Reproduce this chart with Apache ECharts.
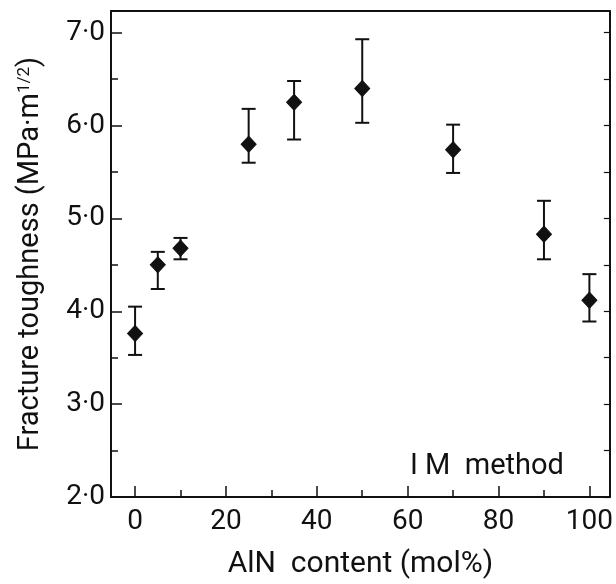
<!DOCTYPE html>
<html>
<head>
<meta charset="utf-8">
<script src="https://cdn.jsdelivr.net/npm/echarts@6/dist/echarts.min.js"></script>
<style>
html,body{margin:0;padding:0;background:#fff;}
#chart{width:616px;height:584px;}
</style>
</head>
<body>
<div id="chart"></div>
<script>
// AlN content (mol%)
var alnContent = [0, 5, 10, 25, 35, 50, 70, 90, 100];
// Fracture toughness mean (MPa·m^1/2)
var toughness = [3.76, 4.50, 4.68, 5.80, 6.25, 6.40, 5.74, 4.83, 4.12];
var errUpper  = [4.05, 4.64, 4.79, 6.18, 6.48, 6.93, 6.01, 5.19, 4.40];
var errLower  = [3.53, 4.24, 4.56, 5.60, 5.85, 6.03, 5.49, 4.56, 3.89];

var xMajorTicks = [0, 20, 40, 60, 80, 100];
var xMinorTicks = [10, 30, 50, 70, 90];
var yMajorTicks = [2, 3, 4, 5, 6, 7];
var yMinorTicks = [2.5, 3.5, 4.5, 5.5, 6.5];
var yRightTicks = [2, 2.5, 3, 3.5, 4, 4.5, 5, 5.5, 6, 6.5, 7];

var FONT = 'Roboto';
var INK = '#111111';
var X_MIN = -5.3, X_MAX = 104.5, Y_MIN = 2.0, Y_MAX = 7.234;

var chart = echarts.init(document.getElementById('chart'), null, {renderer: 'canvas'});

function baseX(extra) {
  return Object.assign({
    type: 'value', min: X_MIN, max: X_MAX, splitLine: {show: false}
  }, extra);
}
function baseY(extra) {
  return Object.assign({
    type: 'value', min: Y_MIN, max: Y_MAX, splitLine: {show: false}
  }, extra);
}

var option = {
  animation: false,
  backgroundColor: '#fff',
  grid: {left: 111, right: 2, top: 11, bottom: 81, containLabel: false},
  xAxis: [
    baseX({
      position: 'bottom',
      name: 'AlN  content (mol%)',
      nameLocation: 'middle',
      nameGap: 52,
      nameTextStyle: {fontFamily: FONT, fontSize: 30, color: INK},
      axisLine: {show: true, onZero: false, lineStyle: {color: INK, width: 2}},
      axisTick: {show: true, inside: true, length: 11, customValues: xMajorTicks, lineStyle: {color: INK, width: 1.5}},
      axisLabel: {show: true, customValues: xMajorTicks, margin: 11, fontFamily: FONT, fontSize: 28, color: INK}
    }),
    baseX({
      position: 'bottom',
      axisLine: {show: false, onZero: false},
      axisTick: {show: true, inside: true, length: 7, customValues: xMinorTicks, lineStyle: {color: INK, width: 1.5}},
      axisLabel: {show: false}
    }),
    baseX({
      position: 'top',
      axisLine: {show: true, onZero: false, lineStyle: {color: INK, width: 2}},
      axisTick: {show: false},
      axisLabel: {show: false}
    })
  ],
  yAxis: [
    baseY({
      position: 'left',
      name: 'Fracture toughness (MPa·m{sup|1/2})',
      nameLocation: 'middle',
      nameGap: 66,
      nameRotate: 90,
      nameTextStyle: {
        fontFamily: FONT, fontSize: 29, color: INK,
        rich: {sup: {fontFamily: FONT, fontSize: 17, color: INK, verticalAlign: 'top', padding: [0, 0, 10, 0]}}
      },
      axisLine: {show: true, onZero: false, lineStyle: {color: INK, width: 2}},
      axisTick: {show: true, inside: true, length: 11, customValues: yMajorTicks, lineStyle: {color: INK, width: 1.5}},
      axisLabel: {
        show: true, customValues: yMajorTicks, margin: 6,
        fontFamily: FONT, fontSize: 28, color: INK,
        formatter: function (v) { return v.toFixed(1).replace('.', '·'); }
      }
    }),
    baseY({
      position: 'left',
      axisLine: {show: false, onZero: false},
      axisTick: {show: true, inside: true, length: 7, customValues: yMinorTicks, lineStyle: {color: INK, width: 1.5}},
      axisLabel: {show: false}
    }),
    baseY({
      position: 'right',
      axisLine: {show: true, onZero: false, lineStyle: {color: INK, width: 2}},
      axisTick: {show: true, inside: true, length: 6, customValues: yRightTicks, lineStyle: {color: INK, width: 1.2}},
      axisLabel: {show: false}
    })
  ],
  graphic: [{
    type: 'text',
    left: 410,
    top: 452,
    style: {text: 'I M  method', fontFamily: FONT, fontSize: 29, fill: INK}
  }],
  series: [
    {
      type: 'custom',
      xAxisIndex: 0,
      yAxisIndex: 0,
      data: alnContent.map(function (x, i) { return [x, errLower[i], errUpper[i]]; }),
      renderItem: function (params, api) {
        var x = api.value(0);
        var lo = api.coord([x, api.value(1)]);
        var hi = api.coord([x, api.value(2)]);
        var hw = 7;
        var st = {stroke: INK, lineWidth: 2};
        return {
          type: 'group',
          children: [
            {type: 'line', shape: {x1: lo[0], y1: lo[1], x2: hi[0], y2: hi[1]}, style: st},
            {type: 'line', shape: {x1: lo[0] - hw, y1: lo[1], x2: lo[0] + hw, y2: lo[1]}, style: st},
            {type: 'line', shape: {x1: hi[0] - hw, y1: hi[1], x2: hi[0] + hw, y2: hi[1]}, style: st}
          ]
        };
      },
      z: 2
    },
    {
      type: 'scatter',
      xAxisIndex: 0,
      yAxisIndex: 0,
      symbol: 'diamond',
      symbolSize: [15, 16],
      itemStyle: {color: '#111111', borderColor: INK, borderWidth: 1, opacity: 1},
      data: alnContent.map(function (x, i) { return [x, toughness[i]]; }),
      z: 3
    }
  ]
};
chart.setOption(option);
</script>
</body>
</html>
